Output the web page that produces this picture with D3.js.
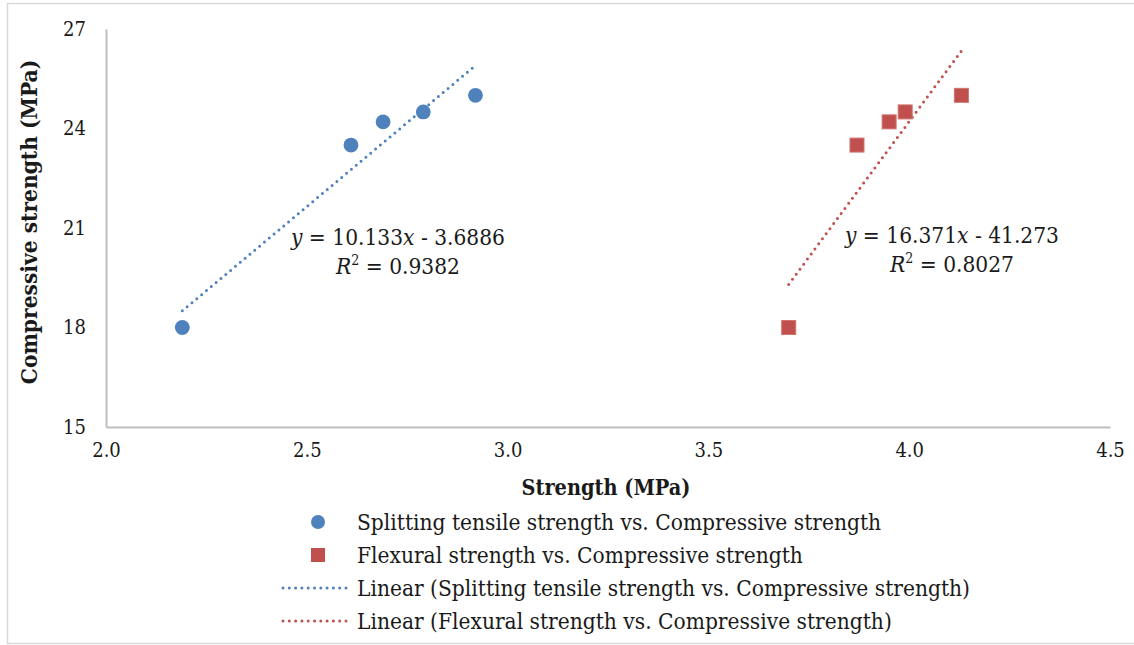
<!DOCTYPE html>
<html>
<head>
<meta charset="utf-8">
<script src="https://cdn.jsdelivr.net/npm/d3@7/dist/d3.min.js"></script>
<style>
  html, body { margin: 0; padding: 0; background: #fff; }
  svg text { font-family: "DejaVu Serif", "Liberation Serif", serif; font-stretch: condensed; fill: #1a1a1a; }
</style>
</head>
<body>
<svg id="chart" width="1134" height="645"></svg>
<script>
// Splitting tensile strength (MPa) vs compressive strength (MPa)
const splitX = [2.19, 2.61, 2.69, 2.79, 2.92];
const splitY = [18.0, 23.5, 24.2, 24.5, 25.0];
// Flexural strength (MPa) vs compressive strength (MPa)
const flexX = [3.70, 3.87, 3.95, 3.99, 4.13];
const flexY = [18.0, 23.5, 24.2, 24.5, 25.0];
// Linear trendline coefficients [slope, intercept, R²]
const splitFit = [10.133, -3.6886, 0.9382];
const flexFit = [16.371, -41.273, 0.8027];

const xTicks = [2.0, 2.5, 3.0, 3.5, 4.0, 4.5];
const yTicks = [15, 18, 21, 24, 27];

const legendLabels = [
  "Splitting tensile strength vs. Compressive strength",
  "Flexural strength vs. Compressive strength",
  "Linear (Splitting tensile strength vs. Compressive strength)",
  "Linear (Flexural strength vs. Compressive strength)"
];

const blue = "#4F81BD", red = "#C0504D", axisGray = "#BFBFBF";

const svg = d3.select("#chart");

// outer chart frame (right edge runs past the page)
svg.append("rect").attr("x", 7.5).attr("y", 3.5).attr("width", 1160).attr("height", 640)
  .attr("fill", "none").attr("stroke", "#D9D9D9").attr("stroke-width", 1.5);

const x = d3.scaleLinear().domain([2.0, 4.5]).range([106, 1110]);
const y = d3.scaleLinear().domain([15, 27]).range([427, 29]);

// axes
const xAxis = svg.append("g").attr("transform", `translate(0,${y(15)})`)
  .call(d3.axisBottom(x).tickValues(xTicks).tickFormat(d3.format(".1f")).tickSize(0).tickPadding(16));
const yAxis = svg.append("g").attr("transform", `translate(${x(2.0)},0)`)
  .call(d3.axisLeft(y).tickValues(yTicks).tickFormat(d3.format("d")).tickSize(0).tickPadding(20));
[xAxis, yAxis].forEach(g => {
  g.select(".domain").attr("stroke", axisGray).attr("stroke-width", 2);
  g.selectAll("text").attr("font-size", 20).attr("fill", "#1a1a1a")
    .style("font-family", '"DejaVu Serif", "Liberation Serif", serif');
});

// axis titles
svg.append("text").attr("x", 606).attr("y", 495).attr("text-anchor", "middle")
  .attr("font-size", 21.5).attr("font-weight", "bold").text("Strength (MPa)");
svg.append("text").attr("transform", "translate(37,222) rotate(-90)").attr("text-anchor", "middle")
  .attr("font-size", 22.5).attr("font-weight", "bold").text("Compressive strength (MPa)");

// trendlines over each series' x-range
function trend(fit, xs) {
  const xr = d3.extent(xs);
  return xr.map(v => [x(v), y(fit[0] * v + fit[1])]);
}
const line = d3.line();
[[splitFit, splitX, blue], [flexFit, flexX, red]].forEach(([fit, xs, c]) => {
  svg.append("path").attr("d", line(trend(fit, xs)))
    .attr("fill", "none").attr("stroke", c).attr("stroke-width", 3)
    .attr("stroke-linecap", "round").attr("stroke-dasharray", "0 6.3");
});

// markers
svg.append("g").selectAll("circle").data(splitX.map((v, i) => [v, splitY[i]])).join("circle")
  .attr("cx", d => x(d[0])).attr("cy", d => y(d[1])).attr("r", 7.4).attr("fill", blue);
svg.append("g").selectAll("rect").data(flexX.map((v, i) => [v, flexY[i]])).join("rect")
  .attr("x", d => x(d[0]) - 7).attr("y", d => y(d[1]) - 7).attr("width", 14).attr("height", 14)
  .attr("fill", red).attr("stroke", "#D07470").attr("stroke-width", 1);

// trendline equation labels
function eqLabel(fit, cx, cy) {
  const sign = fit[1] < 0 ? " - " : " + ";
  const t1 = svg.append("text").attr("x", cx).attr("y", cy).attr("text-anchor", "middle").attr("font-size", 22.5);
  t1.append("tspan").attr("font-style", "italic").text("y");
  t1.append("tspan").text(" = " + fit[0] + "");
  t1.append("tspan").attr("font-style", "italic").text("x");
  t1.append("tspan").text(sign + Math.abs(fit[1]));
  const t2 = svg.append("text").attr("x", cx).attr("y", cy + 29).attr("text-anchor", "middle").attr("font-size", 22.5);
  t2.append("tspan").attr("font-style", "italic").text("R");
  t2.append("tspan").attr("font-size", 14).attr("dy", -9).text("2");
  t2.append("tspan").attr("dy", 9).text(" = " + fit[2]);
}
eqLabel(splitFit, 398, 245);
eqLabel(flexFit, 952, 243);

// legend
const lg = svg.append("g");
const rows = [522, 555, 588, 621];
lg.append("circle").attr("cx", 318).attr("cy", rows[0]).attr("r", 7).attr("fill", blue);
lg.append("rect").attr("x", 311).attr("y", rows[1] - 7).attr("width", 14).attr("height", 14).attr("fill", red);
[[blue, rows[2]], [red, rows[3]]].forEach(([c, ry]) => {
  lg.append("line").attr("x1", 283).attr("x2", 352).attr("y1", ry).attr("y2", ry)
    .attr("stroke", c).attr("stroke-width", 3).attr("stroke-linecap", "round").attr("stroke-dasharray", "0 6.3");
});
legendLabels.forEach((s, i) => {
  lg.append("text").attr("x", 357).attr("y", rows[i] + 8).attr("font-size", 22.5).text(s);
});
</script>
</body>
</html>
